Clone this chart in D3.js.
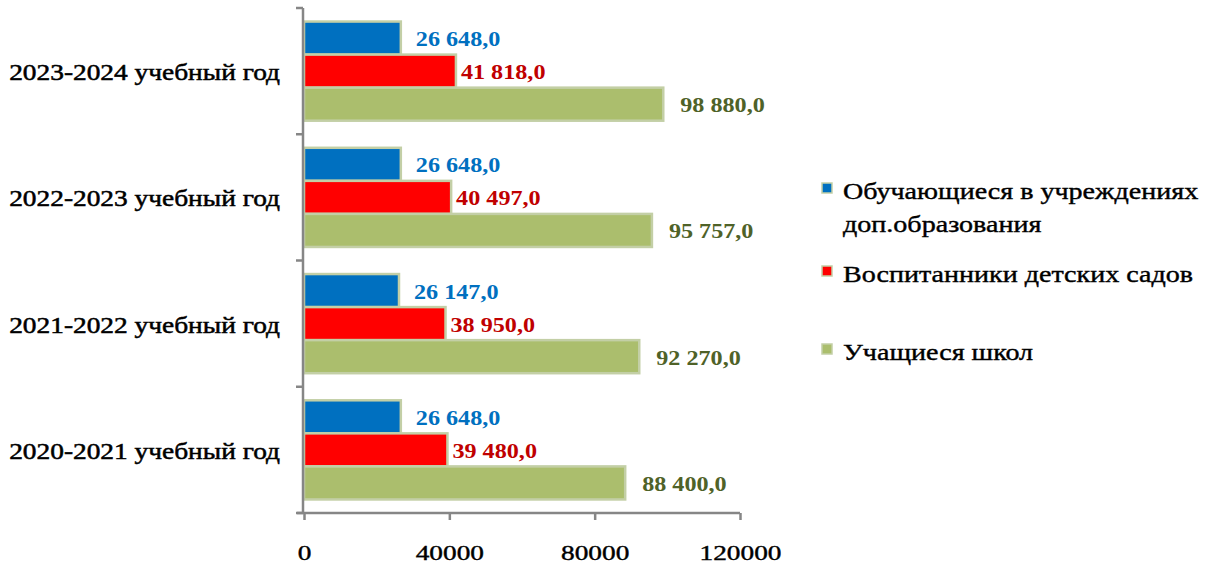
<!DOCTYPE html>
<html><head><meta charset="utf-8">
<script src="https://cdn.jsdelivr.net/npm/d3@7"></script>
<style>body{margin:0;background:#fff}svg{display:block}</style>
</head><body><svg id="c" width="1213" height="566"></svg>
<script>
const categories = ["2023-2024 учебный год","2022-2023 учебный год","2021-2022 учебный год","2020-2021 учебный год"];
const seriesNames = ["Обучающиеся в учреждениях доп.образования","Воспитанники детских садов","Учащиеся школ"];
const dopValues = [26648, 26648, 26147, 26648];
const sadValues = [41818, 40497, 38950, 39480];
const schoolValues = [98880, 95757, 92270, 88400];
const xTicks = [0, 40000, 80000, 120000];
const legendLines = [["Обучающиеся в учреждениях","доп.образования"],["Воспитанники детских садов"],["Учащиеся школ"]];

const fills = ["#0070C0","#FF0000","#ABBE6D"];
const labelColors = ["#0070C0","#C00000","#4F6228"];
const labelOffsets = [15, 5, 17];
const serif = "'Liberation Serif','DejaVu Serif',serif";

function stretch(sel, factor){
  sel.each(function(){
    const w = this.getComputedTextLength();
    d3.select(this).attr("textLength", w*factor).attr("lengthAdjust","spacingAndGlyphs");
  });
}

const svg = d3.select("#c");
const x = d3.scaleLinear().domain([0,120000]).range([304,740]);
const y = d3.scaleBand().domain(categories).range([8,513]).padding(0);
const yi = d3.scaleBand().domain(d3.range(3)).range([0,y.bandwidth()]).paddingInner(0).paddingOuter(0.41);

const data = categories.map((c,i)=>({cat:c, vals:[dopValues[i], sadValues[i], schoolValues[i]]}));
const loc = d3.formatLocale({decimal:",", thousands:"\u00a0", grouping:[3], currency:["",""]});
const fmt = loc.format(",.1f");

// bars
const g = svg.append("g");
data.forEach(d=>{
  d.vals.forEach((v,k)=>{
    g.append("rect")
      .attr("x", x(0)).attr("y", y(d.cat)+yi(k))
      .attr("width", x(v)-x(0)).attr("height", yi.bandwidth())
      .attr("fill", fills[k]).attr("stroke","#C3CFA6").attr("stroke-width",2.5);
  });
});
data.forEach(d=>{
  d.vals.forEach((v,k)=>{
    g.append("text").attr("class","vl")
      .attr("x", x(v)+labelOffsets[k]).attr("y", y(d.cat)+yi(k)+yi.bandwidth()/2+8)
      .attr("fill", labelColors[k]).attr("font-family",serif).attr("font-weight","bold")
      .attr("font-size",21).text(fmt(v));
  });
});
stretch(svg.selectAll("text.vl"), 1.15);

// y axis
svg.append("line").attr("x1",303).attr("x2",303).attr("y1",8).attr("y2",513).attr("stroke","#868686").attr("stroke-width",2.5);
const bounds = [y.range()[0]].concat(categories.map(c=>y(c)+y.bandwidth()));
bounds.forEach(b=>svg.append("line").attr("x1",296).attr("x2",303).attr("y1",b).attr("y2",b).attr("stroke","#868686").attr("stroke-width",2.5));
categories.forEach(c=>{
  svg.append("text").attr("class","cl").attr("x",280).attr("y",y(c)+y.bandwidth()/2+9)
    .attr("text-anchor","end").attr("font-family",serif)
    .attr("font-size",23).attr("fill","#000").attr("stroke","#000").attr("stroke-width",0.5).text(c);
});
stretch(svg.selectAll("text.cl"), 1.19);

// x axis
const xa = svg.append("g").attr("transform","translate(0,513)")
  .call(d3.axisBottom(x).tickValues(xTicks).tickSize(7).tickFormat(d=>String(d)).tickSizeOuter(0));
xa.select(".domain").attr("stroke","#868686").attr("stroke-width",2.5).attr("d","M297,0H740");
xa.selectAll(".tick line").attr("stroke","#868686").attr("stroke-width",2.5);
xa.selectAll(".tick text").attr("font-family",serif).attr("font-size",21).attr("fill","#000")
  .attr("stroke","#000").attr("stroke-width",0.4).attr("y",32);
stretch(xa.selectAll(".tick text"), 1.3);

// legend
const legY = [192, 275, 353];
legendLines.forEach((lines,k)=>{
  svg.append("rect").attr("x",822).attr("y",legY[k]-9).attr("width",10).attr("height",10)
    .attr("fill",fills[k]).attr("stroke","#C3CFA6").attr("stroke-width",1.5);
  lines.forEach((t,j)=>{
    svg.append("text").attr("class","lg").attr("x",843).attr("y",legY[k]+j*33+7)
      .attr("font-family",serif).attr("font-size",23).attr("fill","#000")
      .attr("stroke","#000").attr("stroke-width",0.4).text(t);
  });
});
stretch(svg.selectAll("text.lg"), 1.22);
</script></body></html>
